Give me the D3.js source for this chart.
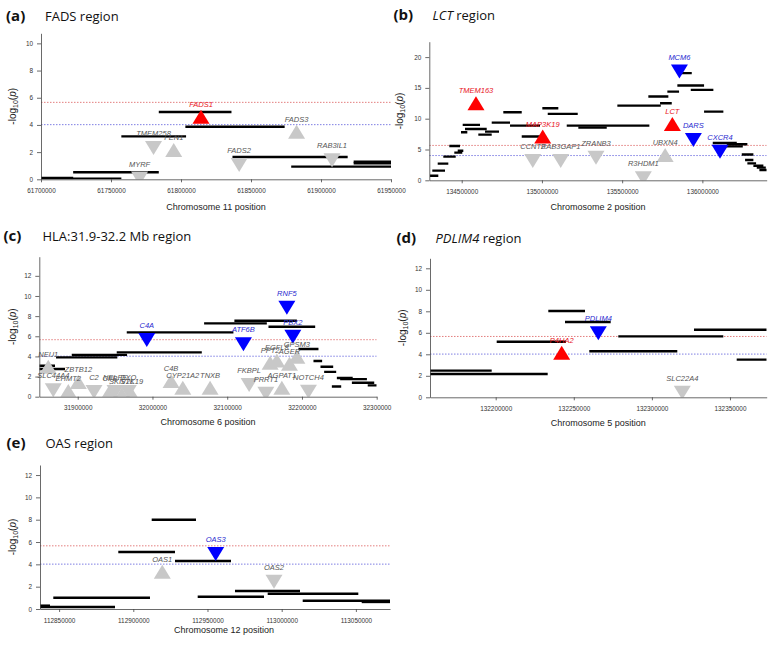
<!DOCTYPE html>
<html><head><meta charset="utf-8">
<script src="https://cdn.jsdelivr.net/npm/d3@7"></script>
<style>body{margin:0;background:#fff} svg{display:block}</style>
</head><body>
<svg id="chart" width="780" height="648"></svg>
<script>
// ---------------- DATA ----------------
const thresholdRed = 5.66;
const thresholdBlue = 4.02;

// Panel (a) FADS region, chromosome 11
const fadsXTicks = [61700000, 61750000, 61800000, 61850000, 61900000, 61950000];
const fadsYTicks = [0, 2, 4, 6, 8, 10];
const fadsSegments = [
  [61700000, 61723000, 0.10],
  [61700000, 61757400, 0.05],
  [61722970, 61784130, 0.52],
  [61757390, 61803620, 3.16],
  [61784130, 61836050, 4.95],
  [61803120, 61874030, 3.87],
  [61836760, 61919050, 1.64],
  [61878720, 61950000, 0.93],
  [61923320, 61950000, 1.30],
  [61923320, 61950000, 1.18]
];
const fadsGenes = [
  ["TMEM258", 61780370, 2.30, "down", "ns"],
  ["FEN1", 61794800, 2.15, "up", "ns"],
  ["MYRF", 61770410, 0.05, "down", "ns"],
  ["FADS2", 61841530, 1.05, "down", "ns"],
  ["FADS3", 61882560, 3.50, "up", "ns"],
  ["RAB3IL1", 61907880, 1.40, "down", "ns"],
  ["FADS1", 61814290, 4.60, "up", "sig"]
];

// Panel (b) LCT region, chromosome 2
const lctXTicks = [134500000, 135000000, 135500000, 136000000];
const lctYTicks = [0, 5, 10, 15, 20];
const lctSegments = [
  [134302400, 134354100, 0.75],
  [134316700, 134395900, 1.57],
  [134350400, 134416500, 2.70],
  [134385300, 134462600, 3.84],
  [134453900, 134503700, 4.49],
  [134475100, 134510000, 4.80],
  [134422700, 134489400, 5.58],
  [134495600, 134534900, 7.80],
  [134506200, 134614100, 9.00],
  [134520600, 134655900, 8.34],
  [134603500, 134687000, 7.42],
  [134645300, 134732500, 7.90],
  [134687000, 134801100, 9.37],
  [134759300, 134874100, 11.05],
  [134801100, 134988200, 8.88],
  [134874100, 134988200, 7.10],
  [135002500, 135102200, 11.70],
  [135036200, 135223200, 10.78],
  [135154600, 135669600, 8.88],
  [135226900, 135404000, 8.55],
  [135470100, 135740600, 12.13],
  [135663300, 135788000, 13.60],
  [135736300, 135809200, 12.50],
  [135781800, 135854700, 14.40],
  [135844100, 136010600, 15.38],
  [135927700, 136068600, 14.68],
  [135861000, 135933900, 17.40],
  [136010600, 136130900, 11.15],
  [136064800, 136214500, 6.05],
  [136152100, 136280500, 5.85],
  [136110300, 136251900, 5.50],
  [136245600, 136318000, 4.20],
  [136266200, 136318000, 3.30],
  [136280500, 136334800, 2.75],
  [136318000, 136380300, 2.37],
  [136339100, 136395300, 2.05],
  [136355400, 136401500, 1.68]
];
const lctGenes = [
  ["CCNT2", 134943000, 3.14, "down", "ns"],
  ["RAB3GAP1", 135117000, 3.14, "down", "ns"],
  ["ZRANB3", 135337000, 3.68, "down", "ns"],
  ["R3HDM1", 135632000, 0.33, "down", "ns"],
  ["UBXN4", 135768000, 4.10, "up", "ns"],
  ["TMEM163", 134589000, 12.50, "up", "sig"],
  ["MAP3K19", 135005000, 7.10, "up", "sig"],
  ["LCT", 135813000, 9.15, "up", "sig"],
  ["MCM6", 135857000, 17.66, "down", "sig"],
  ["DARS", 135944000, 6.55, "down", "sig"],
  ["CXCR4", 136110000, 4.65, "down", "sig"]
];

// Panel (c) HLA region, chromosome 6
const hlaXTicks = [31900000, 32000000, 32100000, 32200000, 32300000];
const hlaYTicks = [0, 2, 4, 6, 8, 10, 12];
const hlaSegments = [
  [31848600, 31869600, 3.08],
  [31848600, 31883000, 2.75],
  [31871000, 31953000, 3.90],
  [31892000, 31966000, 4.15],
  [31952200, 32066000, 4.40],
  [31965600, 32108300, 6.39],
  [32069100, 32153000, 7.28],
  [32109600, 32193200, 7.54],
  [32155200, 32217700, 6.94],
  [32195300, 32222100, 4.73],
  [32215400, 32227000, 3.55],
  [32224800, 32241800, 2.98],
  [32229700, 32245800, 2.46],
  [32246700, 32267900, 1.85],
  [32251100, 32286900, 1.74],
  [32266800, 32296700, 1.39],
  [32288000, 32300000, 1.12],
  [32240000, 32252500, 1.02]
];
const hlaGenes = [
  ["NEU1", 31860600, 2.98, "up", "ns"],
  ["SLC44A4", 31867300, 0.63, "down", "ns"],
  ["EHMT2", 31887400, 0.57, "up", "ns"],
  ["ZBTB12", 31900800, 1.46, "up", "ns"],
  ["C2", 31921800, 0.47, "down", "ns"],
  ["CFB", 31943200, 0.57, "up", "ns"],
  ["NELFE", 31949900, 0.47, "down", "ns"],
  ["SKIV2L", 31958900, 0.23, "up", "ns"],
  ["DXO", 31967700, 0.47, "down", "ns"],
  ["STK19", 31972300, 0.23, "up", "ns"],
  ["C4B", 32024900, 1.56, "up", "ns"],
  ["CYP21A2", 32040600, 0.89, "up", "ns"],
  ["TNXB", 32077100, 0.89, "up", "ns"],
  ["FKBPL", 32129300, 1.16, "down", "ns"],
  ["PRRT1", 32151700, 0.30, "down", "ns"],
  ["AGPAT1", 32173100, 0.89, "up", "ns"],
  ["NOTCH4", 32208700, 0.50, "down", "ns"],
  ["PPT2", 32157400, 3.37, "up", "ns"],
  ["EGFL8", 32166400, 3.60, "up", "ns"],
  ["AGER", 32183300, 3.27, "up", "ns"],
  ["GPSM3", 32193200, 3.97, "up", "ns"],
  ["C4A", 31992400, 5.63, "down", "sig"],
  ["ATF6B", 32121700, 5.20, "down", "sig"],
  ["RNF5", 32179800, 8.83, "down", "sig"],
  ["PBX2", 32187800, 5.95, "down", "sig"]
];

// Panel (d) PDLIM4 region, chromosome 5
const pdlimXTicks = [132200000, 132250000, 132300000, 132350000];
const pdlimYTicks = [0, 2, 4, 6, 8, 10, 12];
const pdlimSegments = [
  [132157940, 132197440, 2.48],
  [132157940, 132233290, 2.17],
  [132200640, 132245000, 5.17],
  [132233680, 132257170, 8.03],
  [132244370, 132273620, 7.00],
  [132259920, 132316260, 4.28],
  [132278490, 132345710, 5.67],
  [132326950, 132373500, 6.29],
  [132354290, 132373500, 3.50]
];
const pdlimGenes = [
  ["SLC22A4", 132319460, 0.43, "down", "ns"],
  ["P4HA2", 132242250, 4.15, "up", "sig"],
  ["PDLIM4", 132265690, 5.95, "down", "sig"]
];

// Panel (e) OAS region, chromosome 12
const oasXTicks = [112850000, 112900000, 112950000, 113000000, 113050000];
const oasYTicks = [0, 2, 4, 6, 8, 10, 12];
const oasSegments = [
  [112837130, 112843860, 0.30],
  [112837130, 112887670, 0.18],
  [112846090, 112911250, 1.01],
  [112889890, 112928100, 5.10],
  [112912400, 112942250, 8.00],
  [112928100, 112965840, 4.30],
  [112943400, 112988080, 1.10],
  [112968530, 113012340, 1.61],
  [112990570, 113051630, 1.37],
  [113014160, 113072990, 0.74],
  [113053920, 113072990, 0.63]
];
const oasGenes = [
  ["OAS1", 112919540, 3.34, "up", "ns"],
  ["OAS2", 112994820, 2.44, "down", "ns"],
  ["OAS3", 112955530, 4.92, "down", "sig"]
];

// ---------------- DRAWING ----------------
const svg = d3.select("#chart");
svg.append("rect").attr("width", 780).attr("height", 648).attr("fill", "#fff");

const labelFont = "'Liberation Sans', Arial, sans-serif";
const titleFont = "'Open Sans', sans-serif";

function geneColor(dir, sig) {
  if (sig !== "sig") return "#c8c8c8";
  return dir === "up" ? "#ff0000" : "#0000ff";
}
function textColor(dir, sig) {
  if (sig !== "sig") return "#555";
  return dir === "up" ? "#e8141c" : "#2a2ad0";
}

function triPath(cx, cy, dir) {
  const w = 17, h = 14;
  if (dir === "up") return `M${cx},${cy - h / 2}L${cx + w / 2},${cy + h / 2}L${cx - w / 2},${cy + h / 2}Z`;
  return `M${cx - w / 2},${cy - h / 2}L${cx + w / 2},${cy - h / 2}L${cx},${cy + h / 2}Z`;
}

let clipId = 0;
function drawPanel(cfg) {
  const g = svg.append("g");
  const x = d3.scaleLinear().domain(cfg.xDomain).range([cfg.l, cfg.r]);
  const y = d3.scaleLinear().domain(cfg.yDomain).range([cfg.b, cfg.t]);
  const id = "clip" + (clipId++);
  g.append("clipPath").attr("id", id).append("rect")
    .attr("x", cfg.l).attr("y", cfg.t).attr("width", cfg.r - cfg.l).attr("height", cfg.b - cfg.t);

  const plot = g.append("g").attr("clip-path", `url(#${id})`);
  // threshold lines
  [[thresholdRed, "#e07070"], [thresholdBlue, "#7070e0"]].forEach(([v, c]) => {
    plot.append("line").attr("x1", cfg.l).attr("x2", cfg.r)
      .attr("y1", y(v)).attr("y2", y(v))
      .attr("stroke", c).attr("stroke-width", 0.9).attr("stroke-dasharray", "1.5,1.5");
  });
  // segments
  plot.selectAll(".seg").data(cfg.segments).enter().append("line")
    .attr("x1", d => x(d[0])).attr("x2", d => x(d[1]))
    .attr("y1", d => y(d[2])).attr("y2", d => y(d[2]))
    .attr("stroke", "#000").attr("stroke-width", 2.4);
  // triangles
  plot.selectAll(".tri").data(cfg.genes).enter().append("path")
    .attr("d", d => triPath(x(d[1]), y(d[2]), d[3]))
    .attr("fill", d => geneColor(d[3], d[4]));
  // labels
  g.selectAll(".lab").data(cfg.genes).enter().append("text")
    .attr("x", d => x(d[1]))
    .attr("y", d => y(d[2]) - (d[3] === "up" ? 10 : 12))
    .attr("text-anchor", "middle")
    .style("font-family", labelFont).style("font-style", "italic").style("font-size", "7.5px")
    .attr("fill", d => textColor(d[3], d[4]))
    .text(d => d[0]);

  // axes
  const ax = g.append("g").attr("transform", `translate(0,${cfg.b})`)
    .call(d3.axisBottom(x).tickValues(cfg.xTicks).tickSize(3).tickSizeOuter(0).tickPadding(6).tickFormat(d3.format("d")));
  const ay = g.append("g").attr("transform", `translate(${cfg.l},0)`)
    .call(d3.axisLeft(y).tickValues(cfg.yTicks).tickSize(4).tickSizeOuter(0).tickPadding(4).tickFormat(d3.format("d")));
  [ax, ay].forEach(a => {
    a.selectAll("path,line").attr("stroke", "#444").attr("stroke-width", 0.8);
    a.selectAll("text").style("font-family", labelFont).style("font-size", "6.4px").attr("fill", "#333");
  });

  // axis titles
  g.append("text").attr("x", cfg.xTitleX !== undefined ? cfg.xTitleX : (cfg.l + cfg.r) / 2).attr("y", cfg.xTitleY)
    .attr("text-anchor", "middle").style("font-family", labelFont).style("font-size", "9px").attr("fill", "#222")
    .text(cfg.xTitle);
  const yt = g.append("text")
    .attr("transform", `translate(${cfg.yTitleX},${(cfg.t + cfg.b) / 2}) rotate(-90)`)
    .attr("text-anchor", "middle").style("font-family", labelFont).style("font-size", "10px").attr("fill", "#222");
  yt.append("tspan").text("-log");
  yt.append("tspan").attr("dy", 2).style("font-size", "7px").text("10");
  yt.append("tspan").attr("dy", -2).text("(");
  yt.append("tspan").style("font-style", "italic").text("p");
  yt.append("tspan").text(")");

  // panel title
  const tt = g.append("text").attr("x", cfg.titleX).attr("y", cfg.titleY)
    .style("font-family", titleFont).attr("fill", "#111");
  tt.append("tspan").style("font-weight", "bold").style("font-size", "15px").text(cfg.letter);
  const t2 = g.append("text").attr("x", cfg.titleX + 39).attr("y", cfg.titleY)
    .style("font-family", titleFont).style("font-size", "13px").attr("fill", "#111");
  cfg.title.forEach(([txt, it]) => t2.append("tspan").style("font-style", it ? "italic" : "normal").text(txt));
}

drawPanel({
  letter: "(a)", title: [["FADS region", false]], titleX: 6, titleY: 21,
  l: 41, r: 391, t: 33.3, b: 179.3,
  xDomain: [61700000, 61950000], yDomain: [0, 10.74],
  xTicks: fadsXTicks, yTicks: fadsYTicks, segments: fadsSegments, genes: fadsGenes,
  xTitle: "Chromosome 11 position", xTitleY: 209.5, yTitleX: 15.5
});
drawPanel({
  letter: "(b)", title: [["LCT", true], [" region", false]], titleX: 393.5, titleY: 19.5,
  l: 429.3, r: 766.7, t: 41.7, b: 180.3,
  xDomain: [134298000, 136401000], yDomain: [0, 22.5],
  xTicks: lctXTicks, yTicks: lctYTicks, segments: lctSegments, genes: lctGenes,
  xTitle: "Chromosome 2 position", xTitleY: 210, yTitleX: 403
});
drawPanel({
  letter: "(c)", title: [["HLA:31.9-32.2 Mb region", false]], titleX: 3.5, titleY: 240.5,
  l: 39.3, r: 376.7, t: 256.7, b: 396.7,
  xDomain: [31848600, 32300000], yDomain: [0, 13.9],
  xTicks: hlaXTicks, yTicks: hlaYTicks, segments: hlaSegments, genes: hlaGenes,
  xTitle: "Chromosome 6 position", xTitleY: 425, yTitleX: 15.5
});
drawPanel({
  letter: "(d)", title: [["PDLIM4", true], [" region", false]], titleX: 396.5, titleY: 243,
  l: 430, r: 766.7, t: 258.3, b: 397.3,
  xDomain: [132157940, 132373500], yDomain: [0, 12.93],
  xTicks: pdlimXTicks, yTicks: pdlimYTicks, segments: pdlimSegments, genes: pdlimGenes,
  xTitle: "Chromosome 5 position", xTitleY: 426, yTitleX: 405.5
});
drawPanel({
  letter: "(e)", title: [["OAS region", false]], titleX: 6.5, titleY: 448,
  l: 40, r: 390, t: 465, b: 609,
  xDomain: [112837130, 113072990], yDomain: [0, 12.9],
  xTicks: oasXTicks, yTicks: oasYTicks, segments: oasSegments, genes: oasGenes,
  xTitle: "Chromosome 12 position", xTitleX: 224, xTitleY: 633, yTitleX: 15.5
});
</script>
</body></html>
